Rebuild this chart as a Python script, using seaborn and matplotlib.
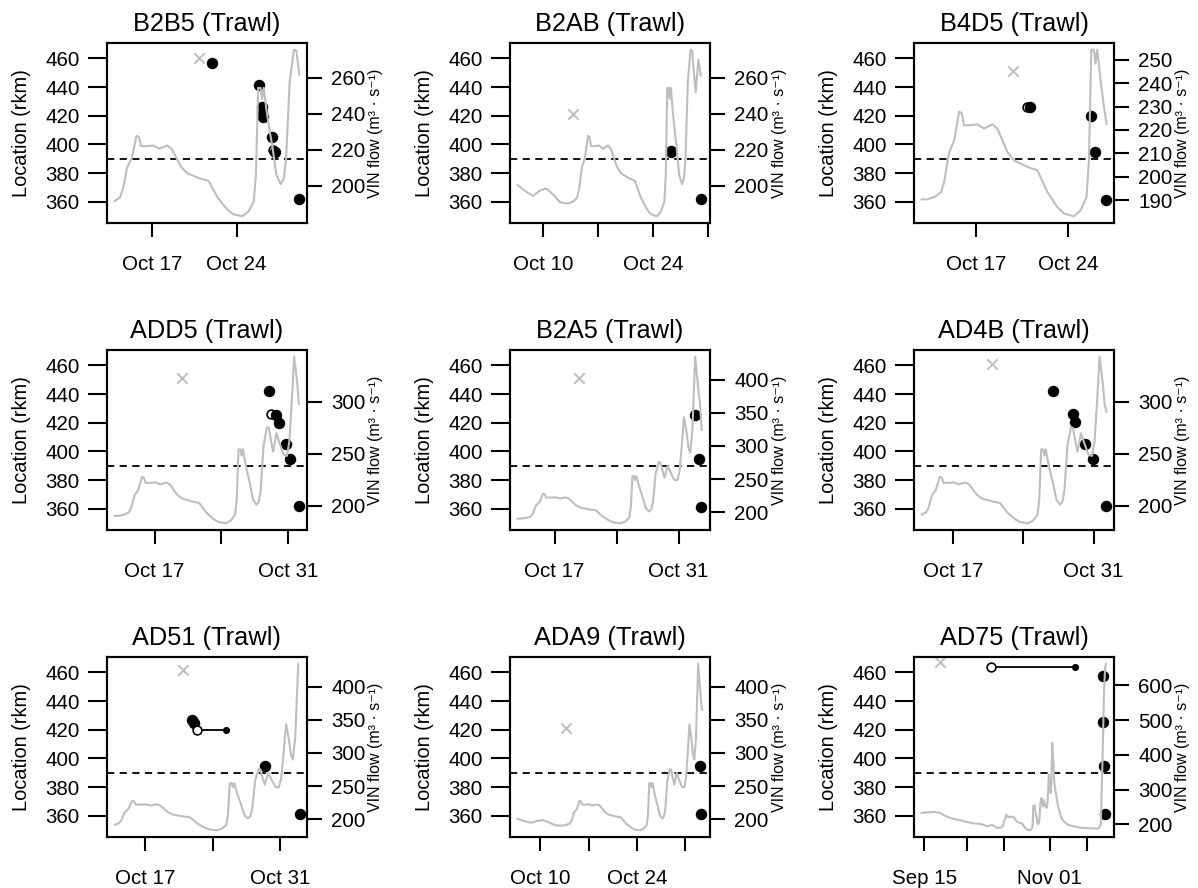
import numpy as np
import pandas as pd
import matplotlib
matplotlib.use('Agg')
import matplotlib.pyplot as plt
import seaborn as sns

sns.set_style('ticks')
plt.rcParams['font.family'] = ['Liberation Sans', 'DejaVu Sans']
for k in ['text.color', 'axes.labelcolor', 'xtick.color', 'ytick.color', 'axes.edgecolor']:
    plt.rcParams[k] = 'black'

# days are counted in October 2016: 1 = Oct 01, 0 = Sep 30, 32 = Nov 01
base = pd.Timestamp('2016-09-30')

# VIN flow (m3/s), one common series
flow_day = [-16.0, -13.0, -11.0, -9.0, -6.5, -4.0, -1.5, 1.0, 3.5, 5.5, 6.7, 7.9, 8.7, 9.6,
            10.4, 11.3, 12.1, 12.8, 13.3, 13.85, 14.3, 14.55, 14.9, 15.3, 15.68, 15.88, 16.06,
            16.57, 17.08, 17.59, 18.22, 18.6, 19.37, 19.88, 20.9, 21.66, 22.42, 23.18, 23.7,
            24.46, 24.97, 25.42, 25.6, 25.78, 25.98, 26.1, 26.24, 26.49, 26.75, 26.95, 27.3,
            27.65, 27.9, 28.1, 28.4, 28.75, 28.95, 29.2, 29.4, 29.75, 30.05, 30.5, 30.85, 31.1,
            31.35, 31.6, 31.9, 32.1, 32.3, 32.55, 32.86, 33.23, 33.4, 33.6, 34.2, 35.0, 36.0,
            37.0, 39.0, 43.0, 46.5, 50.0, 51.0, 51.6, 52.2, 52.6, 53.0]
flow_val = [233, 235, 236, 233, 222, 216, 212, 207, 203, 202, 200.5, 196.5, 194.5, 197.5,
            198.5, 195, 191, 190.3, 190.4, 191.5, 193.5, 198, 210, 215.5, 227.7, 227.2, 222,
            222, 222.4, 220.6, 222.4, 220.6, 210.6, 207, 204.2, 202.8, 193.5, 187.1, 184.3,
            183.1, 185.7, 191.4, 207, 254.3, 254.3, 248.3, 254.3, 241.2, 229.8, 222.4, 206,
            201, 204, 215, 258, 275.5, 275, 261.5, 252, 270, 261, 249, 248, 262,
            300, 343.5, 320, 298, 290, 324, 435, 384, 365, 324, 290, 255, 225,
            210, 198, 191, 189, 188, 200, 370, 580, 650, 662]

panels = ['B2B5', 'B2AB', 'B4D5', 'ADD5', 'B2A5', 'AD4B', 'AD51', 'ADA9', 'AD75']
win_start = [13.85, 6.7, 12.8, 12.8, 12.8, 13.85, 13.85, 6.7, -16.0]
win_end = [29.22, 30.28, 26.95, 32.17, 33.7, 32.3, 33.0, 33.5, 53.17]

release_day = [20.87, 13.78, 19.8, 19.92, 19.8, 20.88, 20.92, 13.72, -8.88]
release_rkm = [460.5, 421.5, 451, 451, 451, 461, 461.5, 421, 467]

det_day = {
    'B2B5': [21.93, 25.85, 26.13, 26.14, 26.16, 26.96, 27.21, 29.2],
    'B2AB': [26.22, 26.28, 30.08],
    'B4D5': [21.08, 25.73, 26.06, 26.93],
    'ADD5': [28.98, 29.68, 30.03, 30.72, 31.14, 32.11],
    'B2A5': [32.79, 33.24, 33.54],
    'AD4B': [26.95, 28.91, 29.11, 30.1, 30.93, 32.2],
    'AD51': [21.88, 22.05, 29.38, 33.0],
    'ADA9': [33.15, 33.29],
    'AD75': [52.0, 52.0, 52.2, 52.6],
}
det_rkm = {
    'B2B5': [456.5, 441.2, 425.9, 422.5, 419.3, 405, 394.7, 362],
    'B2AB': [395.8, 394.6, 362],
    'B4D5': [425.9, 420, 394.8, 361.6],
    'ADD5': [441.8, 425.4, 419.8, 405.1, 395, 361.9],
    'B2A5': [425.4, 395, 361.4],
    'AD4B': [441.8, 426.1, 420.3, 405.1, 395, 361.9],
    'AD51': [426.5, 424.8, 395, 361.6],
    'ADA9': [395, 361.6],
    'AD75': [457.7, 425.4, 395, 361.6],
}

open_panel = ['B2B5', 'B4D5', 'ADD5', 'AD51', 'AD75']
open_day = [26.99, 20.85, 29.16, 22.4, 10.0]
open_rkm = [395.9, 425.9, 426.1, 419.6, 463.5]
open_end_day = [np.nan, np.nan, np.nan, 25.36, 41.2]

flow_ticks = [[200, 220, 240, 260], [200, 220, 240, 260], [190, 200, 210, 220, 230, 240, 250],
              [200, 250, 300], [200, 250, 300, 350, 400], [200, 250, 300],
              [200, 250, 300, 350, 400], [200, 250, 300, 350, 400], [200, 300, 400, 500, 600]]

date_ticks = [['2016-10-17', '2016-10-24'],
              ['2016-10-10', '2016-10-17', '2016-10-24', '2016-10-31'],
              ['2016-10-17', '2016-10-24'],
              ['2016-10-17', '2016-10-24', '2016-10-31'],
              ['2016-10-17', '2016-10-24', '2016-10-31'],
              ['2016-10-17', '2016-10-24', '2016-10-31'],
              ['2016-10-17', '2016-10-24', '2016-10-31'],
              ['2016-10-10', '2016-10-17', '2016-10-24', '2016-10-31'],
              ['2016-09-15', '2016-10-01', '2016-10-15', '2016-11-01', '2016-11-15']]
date_labels = [['Oct 17', 'Oct 24'],
               ['Oct 10', '', 'Oct 24', ''],
               ['Oct 17', 'Oct 24'],
               ['Oct 17', '', 'Oct 31'],
               ['Oct 17', '', 'Oct 31'],
               ['Oct 17', '', 'Oct 31'],
               ['Oct 17', '', 'Oct 31'],
               ['Oct 10', '', 'Oct 24', ''],
               ['Sep 15', '', '', 'Nov 01', '']]


def to_time(d):
    return base + pd.to_timedelta(np.asarray(d, dtype=float), unit='D')


flow = pd.DataFrame({'day': flow_day, 'flow': flow_val})

W, H = 1198, 888
fig = plt.figure(figsize=(W / 100, H / 100), dpi=100)
lefts = [107, 510, 914]
tops = [43, 350, 657]
pw, ph = 200, 180
grey = '#BEBEBE'

for i, name in enumerate(panels):
    r, c = divmod(i, 3)
    ax = fig.add_axes([lefts[c] / W, 1 - (tops[r] + ph) / H, pw / W, ph / H])
    ax2 = ax.twinx()

    s, e = win_start[i], win_end[i]
    pad = 0.04 * (e - s)
    ax.set_xlim(to_time([s - pad])[0], to_time([e + pad])[0])
    ax.set_ylim(345.36, 470.64)

    ax.axhline(390, color='black', lw=1.3, ls=(0, (4, 3)), zorder=1)

    # release
    sns.scatterplot(x=to_time([release_day[i]]), y=[release_rkm[i]], ax=ax, marker='x',
                    color=grey, s=55, linewidth=1.4, zorder=2)

    # first/last detection pairs
    for j, p in enumerate(open_panel):
        if p != name:
            continue
        z = 4 if not np.isnan(open_end_day[j]) else 2.5
        if not np.isnan(open_end_day[j]):
            ax.plot(to_time([open_day[j], open_end_day[j]]), [open_rkm[j], open_rkm[j]],
                    color='black', lw=1.3, zorder=z)
            sns.scatterplot(x=to_time([open_end_day[j]]), y=[open_rkm[j]], ax=ax,
                            color='black', s=26, linewidth=0, zorder=z)
        sns.scatterplot(x=to_time([open_day[j]]), y=[open_rkm[j]], ax=ax, color='white',
                        edgecolor='black', s=40, linewidth=1.2, zorder=z + 0.1)

    sns.scatterplot(x=to_time(det_day[name]), y=det_rkm[name], ax=ax, color='black',
                    s=68, linewidth=0, zorder=3)

    # flow line on the second axis
    sub = flow[(flow['day'] >= s - 1e-9) & (flow['day'] <= e + 1e-9)]
    sns.lineplot(x=to_time(sub['day']), y=sub['flow'].values, ax=ax2, color=grey,
                 linewidth=1.5, estimator=None, sort=False)
    lo, hi = sub['flow'].min(), sub['flow'].max()
    fpad = 0.04 * (hi - lo)
    ax2.set_ylim(lo - fpad, hi + fpad)
    ax2.set_yticks(flow_ticks[i])
    ax2.set_ylabel('')
    ax.set_ylabel('')
    ax.set_xlabel('')

    ax.set_yticks([360, 380, 400, 420, 440, 460])
    ax.set_xticks(to_time([(pd.Timestamp(t) - base).days for t in date_ticks[i]]))
    ax.set_xticklabels(date_labels[i])

    ax.tick_params(axis='y', length=13.5, width=1.5, pad=6, labelsize=14.8)
    ax.tick_params(axis='x', length=10, width=1.5, pad=13, labelsize=14.8)
    ax2.tick_params(axis='y', length=10.5, width=1.5, pad=7, labelsize=14.8)
    for sp in list(ax.spines.values()) + list(ax2.spines.values()):
        sp.set_linewidth(1.5)

    ax.set_title(f'{name} (Trawl)', fontsize=18.3, pad=8.5)
    ax.text(-0.427, 0.5, 'Location (rkm)', rotation=90, ha='center', va='center',
            fontsize=14.4, transform=ax.transAxes)
    ax.text(1.345, 0.5, 'VIN flow (m³ · s⁻¹)', rotation=90, ha='center', va='center',
            fontsize=11.5, transform=ax.transAxes)

fig.savefig('out.png', dpi=100)
